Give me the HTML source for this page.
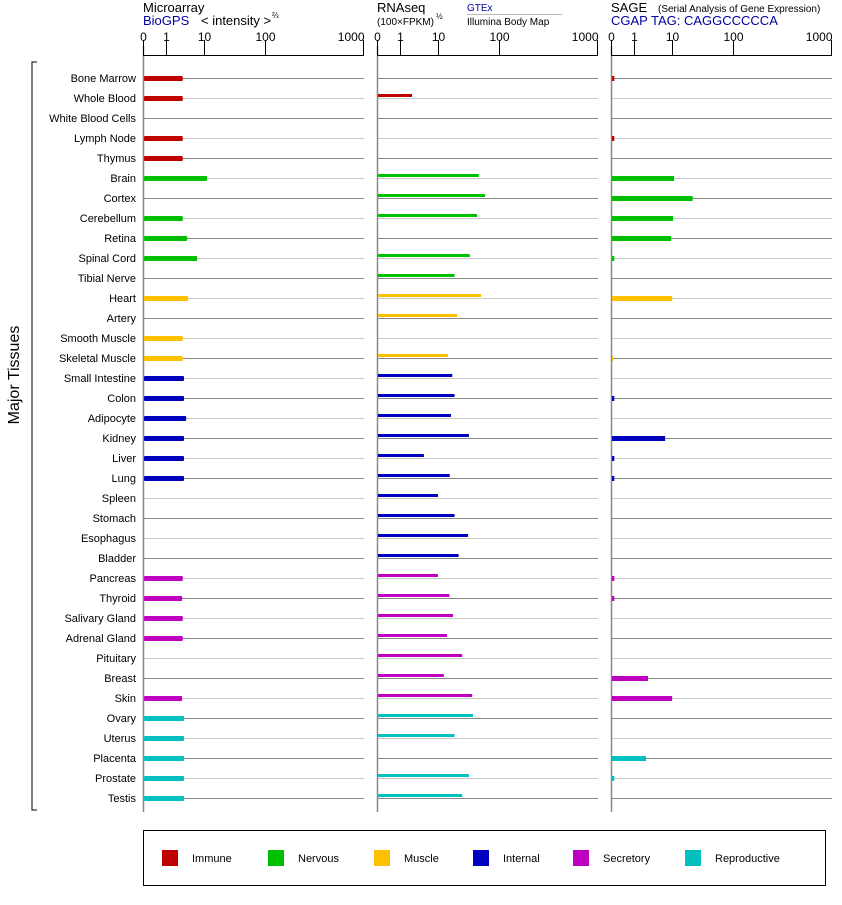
<!DOCTYPE html>
<html><head><meta charset="utf-8"><style>
body{margin:0;background:#fff;font-family:"Liberation Sans",Arial,sans-serif;}
svg text{font-family:"Liberation Sans",Arial,sans-serif;}
</style></head><body>
<svg id="c" width="842" height="900" xmlns="http://www.w3.org/2000/svg">
<g id="hdr" font-size="13">
<text x="143" y="12">Microarray</text>
<text x="143" y="25" fill="#0000a0">BioGPS</text>
<text x="201" y="25">&lt; intensity &gt;</text>
<text x="272" y="18" font-size="8">⅔</text>
<text x="377" y="12">RNAseq</text>
<text x="377" y="25" font-size="10">(100×FPKM)</text>
<text x="436" y="19" font-size="8">½</text>
<text x="467" y="11" font-size="10" fill="#0000a0">GTEx</text>
<line x1="467" y1="14.5" x2="562" y2="14.5" stroke="#bbb"/>
<text x="467" y="25" font-size="10">Illumina Body Map</text>
<text x="611" y="12">SAGE</text>
<text x="658" y="12" font-size="10">(Serial Analysis of Gene Expression)</text>
<text x="611" y="25" fill="#0000a0">CGAP TAG: CAGGCCCCCA</text>
</g>
<text transform="translate(19,375) rotate(-90)" text-anchor="middle" font-size="16">Major Tissues</text>
<path d="M37,62 H32 V810 H37" fill="none" stroke="#000"/>
<g id="plot"></g>
<g>
<rect x="143.5" y="830.5" width="682" height="55" fill="none" stroke="#000"/>
<g id="leg" font-size="11"></g>
</g>
</svg>
<script>
const tissues=["Bone Marrow","Whole Blood","White Blood Cells","Lymph Node","Thymus","Brain","Cortex","Cerebellum","Retina","Spinal Cord","Tibial Nerve","Heart","Artery","Smooth Muscle","Skeletal Muscle","Small Intestine","Colon","Adipocyte","Kidney","Liver","Lung","Spleen","Stomach","Esophagus","Bladder","Pancreas","Thyroid","Salivary Gland","Adrenal Gland","Pituitary","Breast","Skin","Ovary","Uterus","Placenta","Prostate","Testis"];
const groups=[0,0,0,0,0,1,1,1,1,1,1,2,2,2,2,3,3,3,3,3,3,3,3,3,3,4,4,4,4,4,4,4,5,5,5,5,5];
const groupNames=["Immune","Nervous","Muscle","Internal","Secretory","Reproductive"];
const groupColors=["#c00000","#00c000","#ffc000","#0000c0","#c000c0","#00c0c0"];
const microarray=[2.6,2.6,0,2.6,2.6,10.8,0,2.6,3.4,6.2,0,3.6,0,2.6,2.6,2.8,2.8,3.2,2.8,2.8,2.8,0,0,0,0,2.6,2.5,2.6,2.6,0,0,2.5,2.8,2.8,2.8,2.8,2.8];
const rnaseq=[0,1.95,0,0,0,45,57,42,0,32,18,49,19.8,0,14,16.5,18,15.7,31,4.0,15,9.4,18,30,21,9.4,14.8,17,13.5,24,12,35,36,18,0,31,24];
const sage=[0.1,0,0,0.1,0,10.4,21,10,9.0,0.1,0,9.5,0,0,0.05,0,0.1,0,6.2,0.1,0.1,0,0,0,0,0.1,0.1,0,0,0,2.2,9.5,0,0,1.95,0.1,0];
const tickVals=[0,1,10,100,1000];
const tickLabels=["0","1","10","100","1000"];
const NS="http://www.w3.org/2000/svg";
const tickFrac=[0,23/220,61/220,122/220,1];
function scale(v){ // offset in px within 220-wide axis
  if(v<=0)return 0;
  if(v<1)return v*23;
  let l=Math.log10(v);
  if(l>=3)return 220;
  let i=Math.floor(l);
  let a=tickFrac[i+1]*220,b=tickFrac[i+2]*220;
  return a+(b-a)*(l-i);
}
function rowY(i){return 78+i*20;}
function mk(tag,attrs,parent){const e=document.createElementNS(NS,tag);for(const k in attrs)e.setAttribute(k,attrs[k]);parent.appendChild(e);return e;}
const plot=document.getElementById('plot');
// labels
tissues.forEach((t,i)=>{
  const tx=mk('text',{x:136,y:rowY(i)+4,'text-anchor':'end','font-size':11},plot);
  tx.textContent=t;
  
  
});
const panels=[{x0:143,data:microarray,kind:'ma',name:'microarray'},{x0:377,data:rnaseq,kind:'rna',name:'rnaseq'},{x0:611,data:sage,kind:'sage',name:'sage'}];
panels.forEach(p=>{
  const g=mk('g',{},plot);
  
  
  // grid
  tissues.forEach((t,i)=>{
    const l=mk('line',{x1:p.x0,x2:p.x0+221,y1:rowY(i)+0.5,y2:rowY(i)+0.5,stroke:i%2?'#c8c8c8':'#888'},g);
    
    
  });
  // axis
  const ax=mk('line',{x1:p.x0+0.5,x2:p.x0+0.5,y1:46,y2:812,stroke:'#888','stroke-width':1.5},g);
  
  
  const top=mk('line',{x1:p.x0,x2:p.x0+221,y1:55.5,y2:55.5,stroke:'#000'},g);
  
  
  tickVals.forEach((v,k)=>{
    const x=p.x0+scale(v)+0.5;
    const tk=mk('line',{x1:x,x2:x,y1:40,y2:56,stroke:'#000'},g);
    
    
    const tl=mk('text',{x:k==4?x+1:x,y:41,'text-anchor':k==0?'middle':(k==4?'end':'middle'),'font-size':12},g);
    tl.textContent=tickLabels[k];
    
    
  });
  // bars
  p.data.forEach((v,i)=>{
    if(v<=0)return;
    const w=Math.max(scale(v),1.5);
    const c=groupColors[groups[i]];
    let r;
    if(p.kind=='rna') r=mk('rect',{x:p.x0+1,y:rowY(i)-4,width:w,height:3,fill:c},g);
    else r=mk('rect',{x:p.x0+1,y:rowY(i)-2,width:w,height:5,fill:c,rx:p.kind=='ma'?1:0},g);
    
    
  });
});
const leg=document.getElementById('leg');
const legX=[162,268,374,473,573,685];
groupNames.forEach((n,k)=>{
  const r=mk('rect',{x:legX[k],y:850,width:16,height:16,fill:groupColors[k]},leg);
  
  
  const t=mk('text',{x:legX[k]+30,y:862},leg);
  t.textContent=n;
  
  
});
</script>
</body></html>
